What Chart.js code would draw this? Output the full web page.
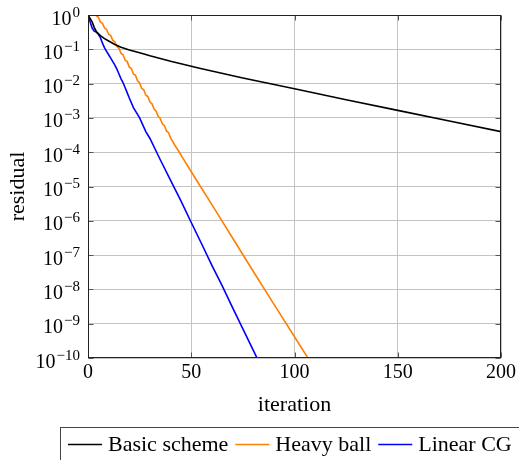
<!DOCTYPE html>
<html>
<head>
<meta charset="utf-8">
<script src="https://cdn.jsdelivr.net/npm/chart.js@4.4.1/dist/chart.umd.min.js"></script>
<style>
  html, body { margin: 0; padding: 0; background: #fff; }
  #wrap { width: 519px; height: 460px; }
</style>
</head>
<body>
<div id="wrap"><canvas id="chart" width="519" height="460"></canvas></div>
<script>
// Residual history of three solvers (residual vs. iteration)
const seriesLabels = ['Basic scheme', 'Heavy ball', 'Linear CG'];
const seriesColors = ['#000000', '#ff8000', '#0000ff'];

const basicIter = [0, 1, 2, 3, 4, 5, 6, 8, 10, 13, 16, 20, 25, 30, 40, 54, 75, 100, 125, 150, 175, 200];
const basicResidual = [1, 0.794, 0.631, 0.437, 0.331, 0.288, 0.251, 0.204, 0.174, 0.138, 0.115, 0.0955,
  0.0794, 0.0646, 0.0447, 0.0282, 0.0145, 7.08e-3, 3.39e-3, 1.66e-3, 8.13e-4, 3.98e-4];

const heavyIter = [0, 1, 2, 3, 4, 5, 6, 7, 8, 9, 10, 11, 12, 13, 14, 15, 16, 17, 18, 19, 20,
  21, 22, 23, 24, 25, 26, 27, 28, 29, 30, 31, 32, 33, 34, 35, 36, 37, 38, 39, 40,
  42, 44, 46, 50, 55, 60, 70, 80, 90, 100, 107];
const heavyResidual = [1, 1.32, 1.41, 1.26, 0.955, 0.871, 0.631, 0.575, 0.417, 0.380, 0.275,
  0.251, 0.182, 0.166, 0.120, 0.107, 0.0759, 0.0692, 0.0479, 0.0437, 0.0302,
  0.0275, 0.0191, 0.0174, 0.0120, 0.0105, 7.24e-3, 6.61e-3, 4.57e-3, 4.17e-3, 2.88e-3,
  2.57e-3, 1.82e-3, 1.58e-3, 1.12e-3, 9.55e-4, 6.76e-4, 5.89e-4, 4.17e-4, 3.72e-4, 2.63e-4,
  1.62e-4, 1.05e-4, 6.61e-5, 2.69e-5, 8.91e-6, 2.95e-6, 3.16e-7, 3.39e-8, 3.72e-9, 4.17e-10, 8.91e-11];

const cgIter = [0, 1, 2, 3, 4, 5, 6, 7, 8, 9, 10, 11, 12, 13, 14, 15, 16, 17, 18, 19, 20,
  22, 25, 28, 30, 35, 40, 45, 50, 55, 60, 65, 70, 75, 80, 82];
const cgResidual = [1, 0.631, 0.417, 0.339, 0.316, 0.275, 0.219, 0.151, 0.110, 0.0871, 0.0692,
  0.0550, 0.0437, 0.0347, 0.0263, 0.0191, 0.0138, 0.0105, 7.59e-3, 5.37e-3, 3.80e-3,
  2.00e-3, 1.00e-3, 3.98e-4, 2.51e-4, 6.03e-5, 1.51e-5, 3.80e-6, 8.91e-7, 2.14e-7, 5.01e-8,
  1.26e-8, 2.95e-9, 7.08e-10, 1.70e-10, 9.55e-11];

const xTickValues = [0, 50, 100, 150, 200];
const yTickExponents = [0, -1, -2, -3, -4, -5, -6, -7, -8, -9, -10];
const xAxisTitle = 'iteration';
const yAxisTitle = 'residual';

const SERIF = '"Liberation Serif", "Times New Roman", serif';

function pairs(xs, ys) {
  return xs.map((x, i) => ({ x: x, y: ys[i] }));
}

const datasets = [
  [basicIter, basicResidual],
  [heavyIter, heavyResidual],
  [cgIter, cgResidual]
].map(([xs, ys], i) => ({
  label: seriesLabels[i],
  data: pairs(xs, ys),
  borderColor: seriesColors[i],
  backgroundColor: seriesColors[i],
  borderWidth: 1.6,
  pointRadius: 0,
  tension: 0,
  fill: false,
  clip: 0
}));

function superExp(e) {
  return e < 0 ? '\u2212' + Math.abs(e) : String(e);
}

// Frame, inward tick marks, power-of-ten labels, y title and boxed legend
const decorations = {
  id: 'decorations',
  afterDraw(chart) {
    const ctx = chart.ctx;
    const area = chart.chartArea;
    const xs = chart.scales.x, ys = chart.scales.y;
    const L = Math.round(area.left) + 0.5, R = Math.round(area.right) - 0.5;
    const T = Math.round(area.top) + 0.5, B = Math.round(area.bottom) - 0.5;
    ctx.save();

    // inward ticks
    ctx.strokeStyle = '#555';
    ctx.lineWidth = 1;
    ctx.beginPath();
    xs.ticks.forEach(t => {
      const px = Math.round(xs.getPixelForValue(t.value)) + 0.5;
      ctx.moveTo(px, B); ctx.lineTo(px, B - 5);
      ctx.moveTo(px, T); ctx.lineTo(px, T + 5);
    });
    ys.ticks.forEach(t => {
      const py = Math.round(ys.getPixelForValue(t.value)) + 0.5;
      ctx.moveTo(L, py); ctx.lineTo(L + 5, py);
      ctx.moveTo(R, py); ctx.lineTo(R - 5, py);
    });
    ctx.stroke();

    // frame
    ctx.strokeStyle = '#222';
    ctx.strokeRect(L, T, R - L, B - T);

    // y tick labels: 10 with raised exponent
    ctx.fillStyle = '#000';
    ctx.textAlign = 'right';
    ctx.textBaseline = 'alphabetic';
    const labelRight = area.left - 8;
    yTickExponents.forEach(e => {
      const py = ys.getPixelForValue(Math.pow(10, e));
      const exp = superExp(e);
      ctx.font = '15px ' + SERIF;
      const ew = ctx.measureText(exp).width;
      ctx.fillText(exp, labelRight, py + 9.5 - 8);
      ctx.font = '20px ' + SERIF;
      ctx.fillText('10', labelRight - ew - 1, py + 9.5);
    });

    // y axis title
    ctx.save();
    ctx.translate(24, (area.top + area.bottom) / 2);
    ctx.rotate(-Math.PI / 2);
    ctx.textAlign = 'center';
    ctx.font = '22px ' + SERIF;
    ctx.fillText(yAxisTitle, 0, 0);
    ctx.restore();

    // legend box
    ctx.strokeStyle = '#444';
    ctx.lineWidth = 1;
    ctx.strokeRect(60.5, 427.5, 480, 60);
    ctx.font = '22px ' + SERIF;
    ctx.textAlign = 'left';
    let x = 68;
    const lineY = 444.5, textY = 451;
    chart.data.datasets.forEach(ds => {
      ctx.strokeStyle = ds.borderColor;
      ctx.lineWidth = 1.6;
      ctx.beginPath();
      ctx.moveTo(x, lineY); ctx.lineTo(x + 34, lineY);
      ctx.stroke();
      x += 34 + 6;
      ctx.fillStyle = '#000';
      ctx.fillText(ds.label, x, textY);
      x += ctx.measureText(ds.label).width + 7;
    });
    ctx.restore();
  }
};

new Chart(document.getElementById('chart'), {
  type: 'line',
  data: { datasets: datasets },
  options: {
    responsive: false,
    devicePixelRatio: 1,
    animation: false,
    events: [],
    layout: { padding: { top: 15, right: 18, left: 0, bottom: 0 } },
    plugins: { legend: { display: false }, tooltip: { enabled: false } },
    scales: {
      x: {
        type: 'linear',
        min: 0,
        max: 200,
        afterBuildTicks(scale) { scale.ticks = xTickValues.map(v => ({ value: v })); },
        afterFit(scale) { scale.height = 102; },
        ticks: {
          color: '#000',
          padding: 3,
          maxRotation: 0,
          font: { family: SERIF, size: 20, lineHeight: 1.2 },
          callback: v => String(v)
        },
        grid: { color: '#c4c4c4', lineWidth: 1, drawTicks: false },
        border: { display: false },
        title: {
          display: true,
          text: xAxisTitle,
          color: '#000',
          font: { family: SERIF, size: 22, lineHeight: 1.2 },
          padding: { top: 0, bottom: 42 }
        }
      },
      y: {
        type: 'logarithmic',
        min: 1e-10,
        max: 1,
        afterBuildTicks(scale) { scale.ticks = yTickExponents.map(e => ({ value: Math.pow(10, e) })); },
        afterFit(scale) { scale.width = 88; },
        ticks: { display: false },
        grid: { color: '#c4c4c4', lineWidth: 1, drawTicks: false },
        border: { display: false }
      }
    }
  },
  plugins: [decorations]
});
</script>
</body>
</html>
